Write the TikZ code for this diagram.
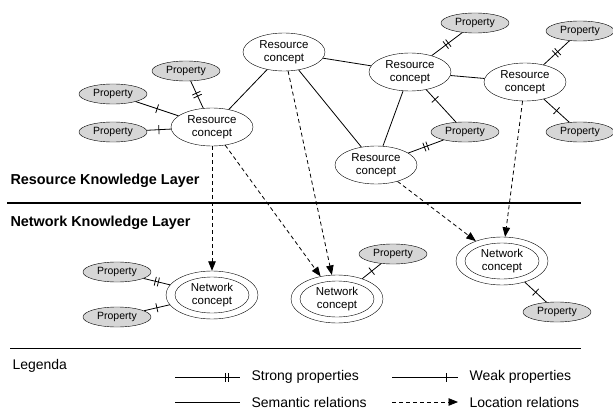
\documentclass[tikz,border=0pt]{standalone}
\usepackage{fontspec}
\setmainfont{Liberation Sans}
\usetikzlibrary{shapes.geometric,arrows.meta,decorations.markings}

\tikzset{
	concept/.style={draw,ellipse,inner sep=0pt,minimum width=82pt,minimum height=38pt,
		align=center,font=\fontsize{11.5}{13.5}\selectfont},
	netconcept/.style={draw,ellipse,inner sep=0pt,minimum width=92pt,minimum height=48pt,
		align=center,font=\fontsize{11.5}{13.5}\selectfont,
		path picture={\draw (path picture bounding box.center) ellipse [x radius=37pt,y radius=18pt];}},
	prop/.style={draw,ellipse,fill=black!16,inner sep=0pt,minimum width=68pt,minimum height=20pt,
		font=\fontsize{10.5}{12}\selectfont},
	semrel/.style={line width=0.8pt},
	locrel/.style={line width=0.8pt,dash pattern=on 4pt off 3pt,-{Triangle[length=9.5pt,width=7.5pt]}},
	weakprop/.style={line width=0.8pt,postaction={decorate,decoration={markings,
		mark=at position #1 with {\draw[solid,line width=0.8pt] (0,-4.5pt) -- (0,4.5pt);}}}},
	weakprop/.default=0.5,
	strongprop/.style={line width=0.8pt,postaction={decorate,decoration={markings,
		mark=at position #1 with {\draw[solid,line width=0.8pt] (-1.6pt,-4.5pt) -- (-1.6pt,4.5pt) (1.6pt,-4.5pt) -- (1.6pt,4.5pt);}}}},
	strongprop/.default=0.5,
	layertitle/.style={anchor=west,font=\fontsize{14.4}{16}\selectfont\bfseries},
	legtext/.style={anchor=west,font=\fontsize{14}{16}\selectfont}
}

\begin{document}
\begin{tikzpicture}[x=1pt,y=-1pt]
	\useasboundingbox (0,0) rectangle (613,409);
	% resource knowledge layer
	\node[concept] (rc1) at (212,127) {Resource\\concept};
	\node[concept] (rc2) at (284,52) {Resource\\concept};
	\node[concept] (rc3) at (410,72) {Resource\\concept};
	\node[concept] (rc4) at (525,82) {Resource\\concept};
	\node[concept] (rc5) at (376,165) {Resource\\concept};
	\node[prop] (p1) at (186,71) {Property};
	\node[prop] (p2) at (113,94) {Property};
	\node[prop] (p3) at (113,132) {Property};
	\node[prop] (p4) at (475,23) {Property};
	\node[prop] (p5) at (580,31) {Property};
	\node[prop] (p6) at (465,132) {Property};
	\node[prop] (p7) at (580,132) {Property};
	\draw[semrel] (rc1) -- (rc2);
	\draw[semrel] (rc2) -- (rc3);
	\draw[semrel] (rc2) -- (rc5);
	\draw[semrel] (rc3) -- (rc4);
	\draw[semrel] (rc3) -- (rc5);
	\draw[strongprop] (p1) -- (rc1);
	\draw[weakprop] (p2) -- (rc1);
	\draw[weakprop] (p3) -- (rc1);
	\draw[strongprop] (p4) -- (rc3);
	\draw[strongprop] (p5) -- (rc4);
	\draw[weakprop=0.3] (rc3) -- (p6);
	\draw[strongprop] (rc5) -- (p6);
	\draw[weakprop] (rc4) -- (p7);
	\node[layertitle] (rkl) at (7,181) {Resource Knowledge Layer};
	\coordinate (sepl) at (7,203);
	\coordinate (sepr) at (581,203);
	\draw[line width=1.6pt] (sepl) -- (sepr);
	% network knowledge layer
	\node[layertitle] (nkl) at (7,223) {Network Knowledge Layer};
	\node[netconcept] (nc1) at (212,295) {Network\\concept};
	\node[netconcept] (nc2) at (337,299) {Network\\concept};
	\node[netconcept] (nc3) at (502,261) {Network\\concept};
	\node[prop] (p8) at (117,272) {Property};
	\node[prop] (p9) at (117,317) {Property};
	\node[prop] (p10) at (393,254) {Property};
	\node[prop] (p11) at (557,312) {Property};
	\draw[strongprop] (p8) -- (nc1);
	\draw[weakprop] (p9) -- (nc1);
	\draw[weakprop] (p10) -- (nc2);
	\draw[weakprop] (nc3) -- (p11);
	\draw[locrel] (rc1) -- (nc1);
	\draw[locrel] (rc1) -- (nc2);
	\draw[locrel] (rc2) -- (nc2);
	\draw[locrel] (rc5) -- (nc3);
	\draw[locrel] (rc4) -- (nc3);
	% legenda
	\coordinate (legl) at (10,348);
	\coordinate (legr) at (581,348);
	\draw[line width=0.8pt] (legl) -- (legr);
	\node[legtext] (leg) at (9,366) {Legenda};
	\coordinate (s1) at (175,377);
	\coordinate (s2) at (240,377);
	\coordinate (w1) at (392,377);
	\coordinate (w2) at (458,377);
	\coordinate (m1) at (175,402);
	\coordinate (m2) at (240,402);
	\coordinate (l1) at (392,402);
	\coordinate (l2) at (458,402);
	\draw[strongprop=0.8] (s1) -- (s2);
	\draw[weakprop=0.82] (w1) -- (w2);
	\draw[semrel] (m1) -- (m2);
	\draw[locrel] (l1) -- (l2);
	\node[legtext] (tstrong) at (248,377) {Strong properties};
	\node[legtext] (tweak) at (466,377) {Weak properties};
	\node[legtext] (tsem) at (248,402) {Semantic relations};
	\node[legtext] (tloc) at (466,402) {Location relations};
\end{tikzpicture}
\end{document}
